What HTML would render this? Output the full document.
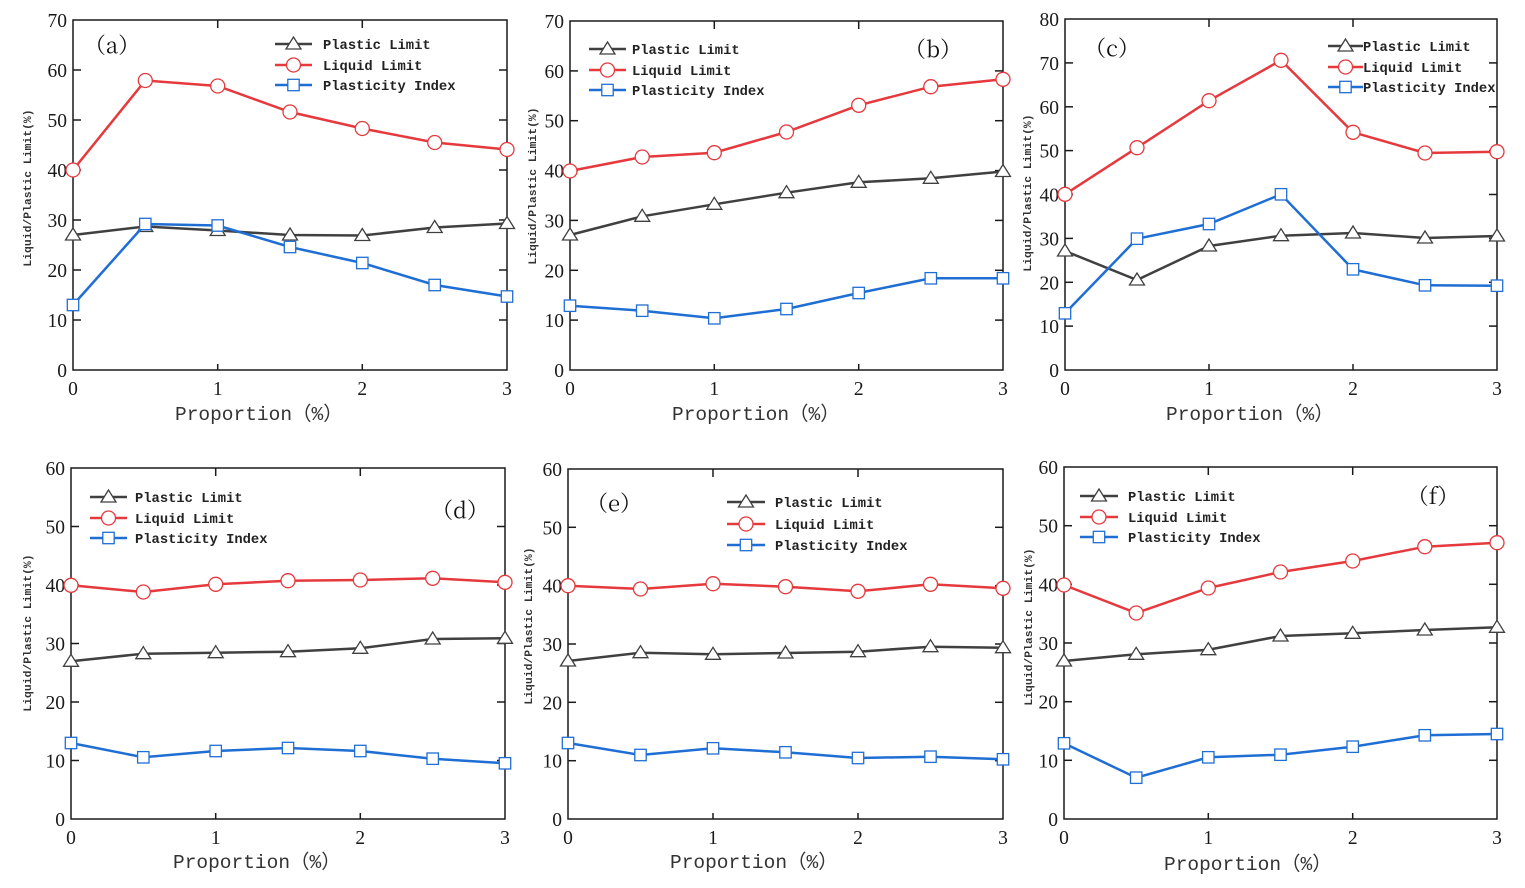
<!DOCTYPE html>
<html><head><meta charset="utf-8"><style>
html,body{margin:0;padding:0;background:#fff;}
svg{display:block;}
.tk{font-family:"Liberation Serif",serif;font-size:19.5px;fill:#1a1a1a;}
.lg{font-family:"Liberation Mono",monospace;font-weight:bold;font-size:13.8px;fill:#222;}
.yl{font-family:"Liberation Mono",monospace;font-weight:bold;font-size:11.4px;fill:#333;}
.xt{font-family:"Liberation Mono","Noto Sans CJK SC",monospace;font-size:19.5px;fill:#333;}
.pl{font-family:"Noto Serif CJK SC","Liberation Serif",serif;font-size:22px;fill:#111;}
.fr{fill:none;stroke:#1a1a1a;stroke-width:1.5;}
.ax line{stroke:#1a1a1a;stroke-width:1.5;}
.k{fill:none;stroke:#404040;stroke-width:2.5;marker-start:url(#mt);marker-mid:url(#mt);marker-end:url(#mt);}
.r{fill:none;stroke:#e5393d;stroke-width:2.5;marker-start:url(#mc);marker-mid:url(#mc);marker-end:url(#mc);}
.b{fill:none;stroke:#1f6ed4;stroke-width:2.5;marker-start:url(#ms);marker-mid:url(#ms);marker-end:url(#ms);}
.lk{stroke:#404040;stroke-width:2.5;}
.lr{stroke:#e5393d;stroke-width:2.5;}
.lb{stroke:#1f6ed4;stroke-width:2.5;}
</style></head><body>
<svg width="1525" height="888" viewBox="0 0 1525 888" xmlns="http://www.w3.org/2000/svg">
<defs>
<marker id="mt" markerUnits="userSpaceOnUse" markerWidth="24" markerHeight="24" refX="12" refY="12" overflow="visible"><polygon points="12,5 19.5,17 4.5,17" fill="#fff" stroke="#404040" stroke-width="1.3"/></marker>
<marker id="mc" markerUnits="userSpaceOnUse" markerWidth="24" markerHeight="24" refX="12" refY="12" overflow="visible"><circle cx="12" cy="12" r="7" fill="#fff" stroke="#e5393d" stroke-width="1.3"/></marker>
<marker id="ms" markerUnits="userSpaceOnUse" markerWidth="24" markerHeight="24" refX="12" refY="12" overflow="visible"><rect x="6.3" y="6.3" width="11.4" height="11.4" fill="#fff" stroke="#1f6ed4" stroke-width="1.3"/></marker>
</defs>
<rect x="0" y="0" width="1525" height="888" fill="#fff"/>

<!-- ===== Panel (a) ===== -->
<g>
<rect class="fr" x="73" y="20" width="434" height="350"/>
<g class="ax">
<line x1="73" y1="320" x2="81" y2="320"/><line x1="73" y1="270" x2="81" y2="270"/><line x1="73" y1="220" x2="81" y2="220"/><line x1="73" y1="170" x2="81" y2="170"/><line x1="73" y1="120" x2="81" y2="120"/><line x1="73" y1="70" x2="81" y2="70"/>
<line x1="507" y1="320" x2="499" y2="320"/><line x1="507" y1="270" x2="499" y2="270"/><line x1="507" y1="220" x2="499" y2="220"/><line x1="507" y1="170" x2="499" y2="170"/><line x1="507" y1="120" x2="499" y2="120"/><line x1="507" y1="70" x2="499" y2="70"/>
<line x1="217.7" y1="20" x2="217.7" y2="28"/><line x1="362.3" y1="20" x2="362.3" y2="28"/>
<line x1="217.7" y1="370" x2="217.7" y2="364"/><line x1="362.3" y1="370" x2="362.3" y2="364"/>
</g>
<g class="tk" text-anchor="end" transform="translate(0,1)">
<text x="67" y="376">0</text><text x="67" y="326">10</text><text x="67" y="276">20</text><text x="67" y="226">30</text><text x="67" y="176">40</text><text x="67" y="126">50</text><text x="67" y="76">60</text><text x="67" y="26">70</text>
</g>
<g class="tk" text-anchor="middle" transform="translate(0,2)">
<text x="73" y="393">0</text><text x="217.7" y="393">1</text><text x="362.3" y="393">2</text><text x="507" y="393">3</text>
</g>
<text class="yl" transform="translate(31,188) rotate(-90)" text-anchor="middle">Liquid/Plastic Limit(%)</text>
<text class="xt" x="175" y="420">Proportion（%）</text>
<text class="pl" x="112" y="53" text-anchor="middle">（a）</text>
<polyline class="k" points="73,235 145.3,226.5 217.7,230.5 290,235 362.3,235.5 434.7,227.5 507,223.5"/>
<polyline class="r" points="73,170 145.3,80.5 217.7,86 290,112 362.3,128.5 434.7,142.5 507,149.5"/>
<polyline class="b" points="73,305 145.3,224 217.7,225.5 290,247 362.3,263 434.7,285 507,296.5"/>
<line class="lk" x1="275" y1="44" x2="312" y2="44"/><polygon points="293.5,37 301,49 286,49" fill="#fff" stroke="#404040" stroke-width="1.3"/>
<line class="lr" x1="275" y1="65" x2="312" y2="65"/><circle cx="293.5" cy="65" r="7" fill="#fff" stroke="#e5393d" stroke-width="1.3"/>
<line class="lb" x1="275" y1="85" x2="312" y2="85"/><rect x="287.8" y="79.3" width="11.4" height="11.4" fill="#fff" stroke="#1f6ed4" stroke-width="1.3"/>
<text class="lg" x="323" y="49">Plastic Limit</text>
<text class="lg" x="323" y="70">Liquid Limit</text>
<text class="lg" x="323" y="90">Plasticity Index</text>
</g>

<!-- ===== Panel (b) ===== -->
<g>
<rect class="fr" x="570" y="21" width="433" height="349"/>
<g class="ax">
<line x1="570" y1="320.1" x2="578" y2="320.1"/><line x1="570" y1="270.3" x2="578" y2="270.3"/><line x1="570" y1="220.4" x2="578" y2="220.4"/><line x1="570" y1="170.6" x2="578" y2="170.6"/><line x1="570" y1="120.7" x2="578" y2="120.7"/><line x1="570" y1="70.9" x2="578" y2="70.9"/>
<line x1="1003" y1="320.1" x2="995" y2="320.1"/><line x1="1003" y1="270.3" x2="995" y2="270.3"/><line x1="1003" y1="220.4" x2="995" y2="220.4"/><line x1="1003" y1="170.6" x2="995" y2="170.6"/><line x1="1003" y1="120.7" x2="995" y2="120.7"/><line x1="1003" y1="70.9" x2="995" y2="70.9"/>
<line x1="714.3" y1="21" x2="714.3" y2="29"/><line x1="858.7" y1="21" x2="858.7" y2="29"/>
<line x1="714.3" y1="370" x2="714.3" y2="364"/><line x1="858.7" y1="370" x2="858.7" y2="364"/>
</g>
<g class="tk" text-anchor="end" transform="translate(0,1)">
<text x="564" y="376">0</text><text x="564" y="326.1">10</text><text x="564" y="276.3">20</text><text x="564" y="226.4">30</text><text x="564" y="176.6">40</text><text x="564" y="126.7">50</text><text x="564" y="76.9">60</text><text x="564" y="27">70</text>
</g>
<g class="tk" text-anchor="middle" transform="translate(0,2)">
<text x="570" y="393">0</text><text x="714.3" y="393">1</text><text x="858.7" y="393">2</text><text x="1003" y="393">3</text>
</g>
<text class="yl" transform="translate(536,186) rotate(-90)" text-anchor="middle">Liquid/Plastic Limit(%)</text>
<text class="xt" x="672" y="420">Proportion（%）</text>
<text class="pl" x="933" y="57" text-anchor="middle">（b）</text>
<polyline class="k" points="570,235 642.2,216.3 714.3,204.3 786.5,192.7 858.7,182.3 930.8,178.3 1003,171.5"/>
<polyline class="r" points="570,171 642.2,157 714.3,152.7 786.5,132 858.7,105.3 930.8,86.7 1003,79.3"/>
<polyline class="b" points="570,305.7 642.2,310.7 714.3,318.3 786.5,309 858.7,293 930.8,278.3 1003,278.3"/>
<line class="lk" x1="589" y1="49" x2="626" y2="49"/><polygon points="607.5,42 615,54 600,54" fill="#fff" stroke="#404040" stroke-width="1.3"/>
<line class="lr" x1="589" y1="70" x2="626" y2="70"/><circle cx="607.5" cy="70" r="7" fill="#fff" stroke="#e5393d" stroke-width="1.3"/>
<line class="lb" x1="589" y1="90" x2="626" y2="90"/><rect x="601.8" y="84.3" width="11.4" height="11.4" fill="#fff" stroke="#1f6ed4" stroke-width="1.3"/>
<text class="lg" x="632" y="54">Plastic Limit</text>
<text class="lg" x="632" y="75">Liquid Limit</text>
<text class="lg" x="632" y="95">Plasticity Index</text>
</g>

<!-- ===== Panel (c) ===== -->
<g>
<rect class="fr" x="1065" y="19" width="432" height="351"/>
<g class="ax">
<line x1="1065" y1="326.1" x2="1073" y2="326.1"/><line x1="1065" y1="282.3" x2="1073" y2="282.3"/><line x1="1065" y1="238.4" x2="1073" y2="238.4"/><line x1="1065" y1="194.5" x2="1073" y2="194.5"/><line x1="1065" y1="150.6" x2="1073" y2="150.6"/><line x1="1065" y1="106.8" x2="1073" y2="106.8"/><line x1="1065" y1="62.9" x2="1073" y2="62.9"/>
<line x1="1497" y1="326.1" x2="1489" y2="326.1"/><line x1="1497" y1="282.3" x2="1489" y2="282.3"/><line x1="1497" y1="238.4" x2="1489" y2="238.4"/><line x1="1497" y1="194.5" x2="1489" y2="194.5"/><line x1="1497" y1="150.6" x2="1489" y2="150.6"/><line x1="1497" y1="106.8" x2="1489" y2="106.8"/><line x1="1497" y1="62.9" x2="1489" y2="62.9"/>
<line x1="1209" y1="19" x2="1209" y2="27"/><line x1="1353" y1="19" x2="1353" y2="27"/>
<line x1="1209" y1="370" x2="1209" y2="364"/><line x1="1353" y1="370" x2="1353" y2="364"/>
</g>
<g class="tk" text-anchor="end" transform="translate(0,1)">
<text x="1059" y="376">0</text><text x="1059" y="332.1">10</text><text x="1059" y="288.3">20</text><text x="1059" y="244.4">30</text><text x="1059" y="200.5">40</text><text x="1059" y="156.6">50</text><text x="1059" y="112.8">60</text><text x="1059" y="68.9">70</text><text x="1059" y="25">80</text>
</g>
<g class="tk" text-anchor="middle" transform="translate(0,2)">
<text x="1065" y="393">0</text><text x="1209" y="393">1</text><text x="1353" y="393">2</text><text x="1497" y="393">3</text>
</g>
<text class="yl" transform="translate(1031,193) rotate(-90)" text-anchor="middle">Liquid/Plastic Limit(%)</text>
<text class="xt" x="1166" y="420">Proportion（%）</text>
<text class="pl" x="1112" y="56" text-anchor="middle">（c）</text>
<polyline class="k" points="1065,251 1137,280 1209,246 1281,235.7 1353,233 1425,238 1497,236"/>
<polyline class="r" points="1065,194.3 1137,147.7 1209,100.7 1281,60.3 1353,132.3 1425,153 1497,151.7"/>
<polyline class="b" points="1065,313.3 1137,238.7 1209,224 1281,194.3 1353,269.3 1425,285.3 1497,285.7"/>
<line class="lk" x1="1328" y1="46" x2="1363" y2="46"/><polygon points="1345.5,39 1353,51 1338,51" fill="#fff" stroke="#404040" stroke-width="1.3"/>
<line class="lr" x1="1328" y1="67" x2="1363" y2="67"/><circle cx="1345.5" cy="67" r="7" fill="#fff" stroke="#e5393d" stroke-width="1.3"/>
<line class="lb" x1="1328" y1="87" x2="1363" y2="87"/><rect x="1339.8" y="81.3" width="11.4" height="11.4" fill="#fff" stroke="#1f6ed4" stroke-width="1.3"/>
<text class="lg" x="1363" y="51">Plastic Limit</text>
<text class="lg" x="1363" y="72">Liquid Limit</text>
<text class="lg" x="1363" y="92">Plasticity Index</text>
</g>

<!-- ===== Panel (d) ===== -->
<g>
<rect class="fr" x="71" y="468" width="434" height="351"/>
<g class="ax">
<line x1="71" y1="760.5" x2="79" y2="760.5"/><line x1="71" y1="702" x2="79" y2="702"/><line x1="71" y1="643.5" x2="79" y2="643.5"/><line x1="71" y1="585" x2="79" y2="585"/><line x1="71" y1="526.5" x2="79" y2="526.5"/>
<line x1="505" y1="760.5" x2="497" y2="760.5"/><line x1="505" y1="702" x2="497" y2="702"/><line x1="505" y1="643.5" x2="497" y2="643.5"/><line x1="505" y1="585" x2="497" y2="585"/><line x1="505" y1="526.5" x2="497" y2="526.5"/>
<line x1="215.7" y1="468" x2="215.7" y2="476"/><line x1="360.3" y1="468" x2="360.3" y2="476"/>
<line x1="215.7" y1="819" x2="215.7" y2="813"/><line x1="360.3" y1="819" x2="360.3" y2="813"/>
</g>
<g class="tk" text-anchor="end" transform="translate(0,1)">
<text x="65" y="825">0</text><text x="65" y="766.5">10</text><text x="65" y="708">20</text><text x="65" y="649.5">30</text><text x="65" y="591">40</text><text x="65" y="532.5">50</text><text x="65" y="474">60</text>
</g>
<g class="tk" text-anchor="middle" transform="translate(0,2)">
<text x="71" y="842">0</text><text x="215.7" y="842">1</text><text x="360.3" y="842">2</text><text x="505" y="842">3</text>
</g>
<text class="yl" transform="translate(31,633) rotate(-90)" text-anchor="middle">Liquid/Plastic Limit(%)</text>
<text class="xt" x="173" y="868">Proportion（%）</text>
<text class="pl" x="460" y="518" text-anchor="middle">（d）</text>
<polyline class="k" points="71,661.3 143.3,653.7 215.7,652.7 288,651.7 360.3,648.3 432.7,639 505,638.3"/>
<polyline class="r" points="71,585.3 143.3,592 215.7,584.3 288,580.7 360.3,580 432.7,578.3 505,582.3"/>
<polyline class="b" points="71,743 143.3,757.3 215.7,751 288,748 360.3,751 432.7,758.7 505,763.3"/>
<line class="lk" x1="90" y1="497" x2="127" y2="497"/><polygon points="108.5,490 116,502 101,502" fill="#fff" stroke="#404040" stroke-width="1.3"/>
<line class="lr" x1="90" y1="518" x2="127" y2="518"/><circle cx="108.5" cy="518" r="7" fill="#fff" stroke="#e5393d" stroke-width="1.3"/>
<line class="lb" x1="90" y1="538" x2="127" y2="538"/><rect x="102.8" y="532.3" width="11.4" height="11.4" fill="#fff" stroke="#1f6ed4" stroke-width="1.3"/>
<text class="lg" x="135" y="502">Plastic Limit</text>
<text class="lg" x="135" y="523">Liquid Limit</text>
<text class="lg" x="135" y="543">Plasticity Index</text>
</g>

<!-- ===== Panel (e) ===== -->
<g>
<rect class="fr" x="568" y="469" width="435" height="350"/>
<g class="ax">
<line x1="568" y1="760.7" x2="576" y2="760.7"/><line x1="568" y1="702.3" x2="576" y2="702.3"/><line x1="568" y1="644" x2="576" y2="644"/><line x1="568" y1="585.7" x2="576" y2="585.7"/><line x1="568" y1="527.3" x2="576" y2="527.3"/>
<line x1="1003" y1="760.7" x2="995" y2="760.7"/><line x1="1003" y1="702.3" x2="995" y2="702.3"/><line x1="1003" y1="644" x2="995" y2="644"/><line x1="1003" y1="585.7" x2="995" y2="585.7"/><line x1="1003" y1="527.3" x2="995" y2="527.3"/>
<line x1="713" y1="469" x2="713" y2="477"/><line x1="858" y1="469" x2="858" y2="477"/>
<line x1="713" y1="819" x2="713" y2="813"/><line x1="858" y1="819" x2="858" y2="813"/>
</g>
<g class="tk" text-anchor="end" transform="translate(0,1)">
<text x="562" y="825">0</text><text x="562" y="766.7">10</text><text x="562" y="708.3">20</text><text x="562" y="650">30</text><text x="562" y="591.7">40</text><text x="562" y="533.3">50</text><text x="562" y="475">60</text>
</g>
<g class="tk" text-anchor="middle" transform="translate(0,2)">
<text x="568" y="842">0</text><text x="713" y="842">1</text><text x="858" y="842">2</text><text x="1003" y="842">3</text>
</g>
<text class="yl" transform="translate(532,626) rotate(-90)" text-anchor="middle">Liquid/Plastic Limit(%)</text>
<text class="xt" x="670" y="868">Proportion（%）</text>
<text class="pl" x="614" y="511" text-anchor="middle">（e）</text>
<polyline class="k" points="568,661 640.5,652.7 713,654.3 785.5,653 858,651.7 930.5,646.7 1003,647.7"/>
<polyline class="r" points="568,585.7 640.5,589 713,583.7 785.5,586.7 858,591.3 930.5,584.3 1003,588.3"/>
<polyline class="b" points="568,743 640.5,755 713,748.3 785.5,752.3 858,758 930.5,756.7 1003,759.3"/>
<line class="lk" x1="727" y1="502" x2="765" y2="502"/><polygon points="746,495 753.5,507 738.5,507" fill="#fff" stroke="#404040" stroke-width="1.3"/>
<line class="lr" x1="727" y1="524" x2="765" y2="524"/><circle cx="746" cy="524" r="7" fill="#fff" stroke="#e5393d" stroke-width="1.3"/>
<line class="lb" x1="727" y1="545" x2="765" y2="545"/><rect x="740.3" y="539.3" width="11.4" height="11.4" fill="#fff" stroke="#1f6ed4" stroke-width="1.3"/>
<text class="lg" x="775" y="507">Plastic Limit</text>
<text class="lg" x="775" y="529">Liquid Limit</text>
<text class="lg" x="775" y="550">Plasticity Index</text>
</g>

<!-- ===== Panel (f) ===== -->
<g>
<rect class="fr" x="1064" y="467" width="433" height="352"/>
<g class="ax">
<line x1="1064" y1="760.3" x2="1072" y2="760.3"/><line x1="1064" y1="701.7" x2="1072" y2="701.7"/><line x1="1064" y1="643" x2="1072" y2="643"/><line x1="1064" y1="584.3" x2="1072" y2="584.3"/><line x1="1064" y1="525.7" x2="1072" y2="525.7"/>
<line x1="1497" y1="760.3" x2="1489" y2="760.3"/><line x1="1497" y1="701.7" x2="1489" y2="701.7"/><line x1="1497" y1="643" x2="1489" y2="643"/><line x1="1497" y1="584.3" x2="1489" y2="584.3"/><line x1="1497" y1="525.7" x2="1489" y2="525.7"/>
<line x1="1208.3" y1="467" x2="1208.3" y2="475"/><line x1="1352.7" y1="467" x2="1352.7" y2="475"/>
<line x1="1208.3" y1="819" x2="1208.3" y2="813"/><line x1="1352.7" y1="819" x2="1352.7" y2="813"/>
</g>
<g class="tk" text-anchor="end" transform="translate(0,1)">
<text x="1058" y="825">0</text><text x="1058" y="766.3">10</text><text x="1058" y="707.7">20</text><text x="1058" y="649">30</text><text x="1058" y="590.3">40</text><text x="1058" y="531.7">50</text><text x="1058" y="473">60</text>
</g>
<g class="tk" text-anchor="middle" transform="translate(0,2)">
<text x="1064" y="842">0</text><text x="1208.3" y="842">1</text><text x="1352.7" y="842">2</text><text x="1497" y="842">3</text>
</g>
<text class="yl" transform="translate(1032,627) rotate(-90)" text-anchor="middle">Liquid/Plastic Limit(%)</text>
<text class="xt" x="1164" y="870">Proportion（%）</text>
<text class="pl" x="1433" y="504" text-anchor="middle">（f）</text>
<polyline class="k" points="1064,661 1136.2,654.3 1208.3,649.7 1280.5,636 1352.7,633.3 1424.8,630 1497,627.3"/>
<polyline class="r" points="1064,585 1136.2,613 1208.3,588 1280.5,572 1352.7,561 1424.8,546.7 1497,542.7"/>
<polyline class="b" points="1064,743.3 1136.2,777.7 1208.3,757.3 1280.5,754.7 1352.7,746.7 1424.8,735.3 1497,734"/>
<line class="lk" x1="1080" y1="496" x2="1118" y2="496"/><polygon points="1099,489 1106.5,501 1091.5,501" fill="#fff" stroke="#404040" stroke-width="1.3"/>
<line class="lr" x1="1080" y1="517" x2="1118" y2="517"/><circle cx="1099" cy="517" r="7" fill="#fff" stroke="#e5393d" stroke-width="1.3"/>
<line class="lb" x1="1080" y1="537" x2="1118" y2="537"/><rect x="1093.3" y="531.3" width="11.4" height="11.4" fill="#fff" stroke="#1f6ed4" stroke-width="1.3"/>
<text class="lg" x="1128" y="501">Plastic Limit</text>
<text class="lg" x="1128" y="522">Liquid Limit</text>
<text class="lg" x="1128" y="542">Plasticity Index</text>
</g>
</svg>
</body></html>
